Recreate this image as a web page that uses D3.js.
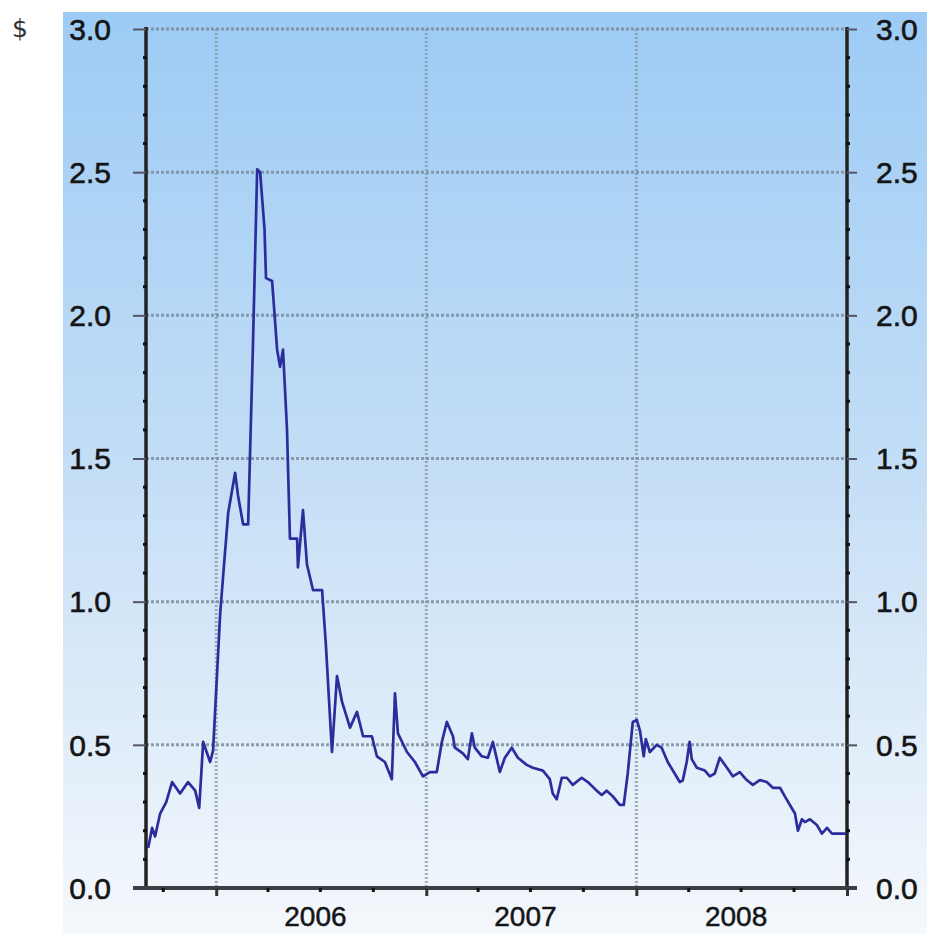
<!DOCTYPE html>
<html><head><meta charset="utf-8">
<script src="https://cdn.jsdelivr.net/npm/d3@7"></script>
<style>html,body{margin:0;padding:0;background:#fff;}svg{display:block;}</style>
</head><body>
<svg id="chart" width="927" height="934"></svg>
<script>
// Dates as decimal years, prices in $
const dates = [2005.676,2005.695,2005.709,2005.733,2005.762,2005.790,2005.828,2005.866,2005.900,2005.919,
2005.938,2005.971,2005.985,2006.019,2006.033,2006.057,2006.090,2006.104,2006.128,2006.152,
2006.175,2006.195,2006.209,2006.230,2006.237,2006.266,2006.290,2006.304,2006.318,2006.337,
2006.351,2006.385,2006.389,2006.413,2006.432,2006.461,2006.504,2006.522,2006.551,2006.575,
2006.599,2006.637,2006.670,2006.699,2006.741,2006.765,2006.803,2006.836,2006.851,2006.865,
2006.908,2006.946,2006.984,2007.017,2007.050,2007.074,2007.098,2007.127,2007.136,2007.174,
2007.198,2007.217,2007.231,2007.264,2007.293,2007.317,2007.336,2007.350,2007.374,2007.407,
2007.436,2007.478,2007.507,2007.555,2007.588,2007.602,2007.621,2007.645,2007.669,2007.697,
2007.740,2007.769,2007.811,2007.835,2007.859,2007.888,2007.921,2007.940,2007.959,2007.983,
2008.002,2008.017,2008.035,2008.045,2008.064,2008.097,2008.120,2008.149,2008.182,2008.206,
2008.220,2008.239,2008.253,2008.263,2008.287,2008.325,2008.349,2008.372,2008.396,2008.430,
2008.458,2008.491,2008.524,2008.553,2008.586,2008.619,2008.648,2008.682,2008.705,2008.729,
2008.753,2008.767,2008.786,2008.800,2008.824,2008.857,2008.881,2008.905,2008.929,2008.995];
const prices = [0.14,0.21,0.18,0.26,0.30,0.37,0.33,0.37,0.34,0.28,
0.51,0.44,0.48,0.96,1.09,1.31,1.45,1.37,1.27,1.27,
1.90,2.51,2.50,2.30,2.13,2.12,1.88,1.82,1.88,1.60,
1.22,1.22,1.12,1.32,1.13,1.04,1.04,0.85,0.475,0.74,
0.65,0.56,0.615,0.53,0.53,0.46,0.44,0.38,0.68,0.54,
0.475,0.44,0.39,0.405,0.405,0.51,0.58,0.53,0.49,0.47,
0.45,0.54,0.49,0.46,0.455,0.51,0.45,0.405,0.455,0.49,
0.455,0.43,0.42,0.41,0.38,0.33,0.31,0.385,0.385,0.36,
0.385,0.37,0.34,0.325,0.34,0.32,0.29,0.29,0.40,0.58,
0.587,0.55,0.46,0.52,0.475,0.50,0.49,0.44,0.40,0.37,
0.375,0.44,0.51,0.45,0.42,0.41,0.39,0.40,0.455,0.42,
0.39,0.405,0.377,0.36,0.377,0.37,0.35,0.35,0.32,0.29,
0.26,0.20,0.24,0.23,0.24,0.22,0.19,0.21,0.19,0.19];
const yTickLabels = ["0.0","0.5","1.0","1.5","2.0","2.5","3.0"];
const yearLabels = ["2006","2007","2008"];

function decToDate(d){
  const yr = Math.floor(d);
  const s = new Date(yr,0,1), e = new Date(yr+1,0,1);
  return new Date(s.getTime() + (d-yr)*(e-s));
}
const series = dates.map((d,i)=>({date:decToDate(d), value:prices[i]}));

const svg = d3.select("#chart");
const L = 146, R = 847, T = 29, B = 888;
const x = d3.scaleTime().domain([new Date(2005,8,1), new Date(2009,0,1)]).range([L,R]);
const y = d3.scaleLinear().domain([0,3]).range([B,T]);

// background gradient
const defs = svg.append("defs");
const g = defs.append("linearGradient").attr("id","bg").attr("x1",0).attr("y1",0).attr("x2",0).attr("y2",1);
g.append("stop").attr("offset","0%").attr("stop-color","#9dcbf5");
g.append("stop").attr("offset","50%").attr("stop-color","#c4def6");
g.append("stop").attr("offset","100%").attr("stop-color","#f5f8fc");
svg.append("rect").attr("x",63).attr("y",12).attr("width",927-63).attr("height",934-12).attr("fill","url(#bg)");

// grid
const majorY = yTickLabels.map(Number);
svg.append("g").selectAll("line").data(majorY.filter(v=>v>0)).join("line")
  .attr("x1",L).attr("x2",R).attr("y1",d=>y(d)).attr("y2",d=>y(d))
  .attr("stroke","#76899a").attr("stroke-width",3).attr("stroke-dasharray","3,2").attr("opacity",0.8);
const years = x.ticks(d3.timeYear.every(1)).filter(d=>d>x.domain()[0] && d<x.domain()[1]);
svg.append("g").selectAll("line").data(years).join("line")
  .attr("x1",d=>x(d)).attr("x2",d=>x(d)).attr("y1",T).attr("y2",B)
  .attr("stroke","#8494a2").attr("stroke-width",3).attr("stroke-dasharray","2,2").attr("opacity",0.75);

// axes
const yAxisL = d3.axisLeft(y).tickValues(majorY).tickSize(13).tickFormat(()=> "");
const yAxisR = d3.axisRight(y).tickValues(majorY).tickSize(10).tickFormat(()=> "");
const gl = svg.append("g").attr("transform",`translate(${L},0)`).call(yAxisL);
const gr = svg.append("g").attr("transform",`translate(${R},0)`).call(yAxisR);
[gl,gr].forEach(a=>{
  a.select(".domain").attr("stroke","#222").attr("stroke-width",3.5).attr("d",`M0,${T-2}V${B+2}`);
  a.selectAll(".tick line").attr("stroke","#556").attr("stroke-width",2);
});
// minor y dots
const minorY = y.ticks(30).filter(v=>!majorY.some(m=>Math.abs(m-v)<1e-6));
[[L,-3],[R,-1]].forEach(([ax,off])=>{
  svg.append("g").selectAll("rect").data(minorY).join("rect")
    .attr("x",ax+off).attr("y",d=>y(d)-1.5).attr("width",4).attr("height",3).attr("fill","#111");
});
// x axis
const xAxis = d3.axisBottom(x).ticks(d3.timeYear.every(1)).tickSize(8).tickFormat(()=> "");
const gx = svg.append("g").attr("transform",`translate(0,${B})`).call(xAxis);
gx.select(".domain").attr("stroke","#3a3f44").attr("stroke-width",4).attr("d",`M133,0H857`);
gx.selectAll(".tick line").attr("stroke","#333").attr("stroke-width",3);
const quarters = x.ticks(d3.timeMonth.every(3)).filter(d=>d.getMonth()!==0);
svg.append("g").selectAll("rect").data(quarters).join("rect")
  .attr("x",d=>x(d)-1.5).attr("y",B).attr("width",3).attr("height",4).attr("fill","#111");

// labels
const lblFont = "'Liberation Sans', Arial, sans-serif";
svg.append("g").selectAll("text").data(yTickLabels).join("text")
  .attr("x",111).attr("y",d=>y(+d)).attr("dy","0.36em").attr("text-anchor","end")
  .attr("font-family",lblFont).attr("font-size",30).attr("fill","#151515")
  .attr("stroke","#151515").attr("stroke-width",0.6).text(d=>d);
svg.append("g").selectAll("text").data(yTickLabels).join("text")
  .attr("x",876).attr("y",d=>y(+d)).attr("dy","0.36em").attr("text-anchor","start")
  .attr("font-family",lblFont).attr("font-size",30).attr("fill","#151515")
  .attr("stroke","#151515").attr("stroke-width",0.6).text(d=>d);
svg.append("g").selectAll("text").data(yearLabels).join("text")
  .attr("x",d=>x(new Date(+d,6,1))-5).attr("y",926).attr("text-anchor","middle")
  .attr("font-family",lblFont).attr("font-size",28).attr("fill","#151515")
  .attr("stroke","#151515").attr("stroke-width",0.5).text(d=>d);
svg.append("text").attr("x",20).attr("y",37).attr("text-anchor","middle")
  .attr("font-family","'DejaVu Sans', sans-serif").attr("font-size",25).attr("fill","#333").text("$");

// line
svg.append("path").datum(series)
  .attr("d",d3.line().x(d=>x(d.date)).y(d=>y(d.value)))
  .attr("fill","none").attr("stroke","#2b2d9c").attr("stroke-width",2.7).attr("stroke-linejoin","round");
</script>
</body></html>
